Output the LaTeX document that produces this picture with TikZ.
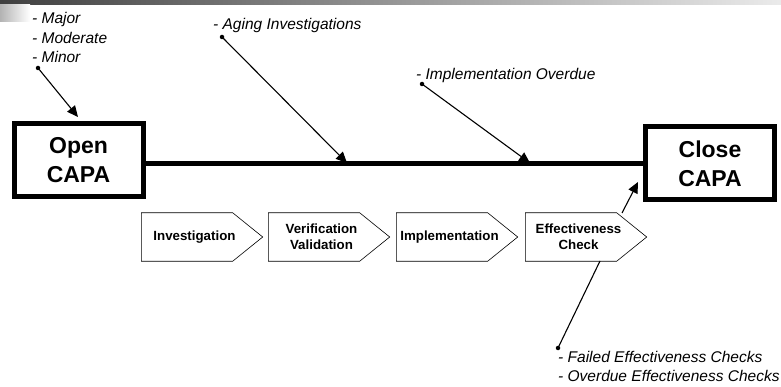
\documentclass[tikz,border=0pt]{standalone}
\usepackage{fontspec}
\setmainfont{Liberation Sans}
\usetikzlibrary{arrows.meta}
\begin{document}
\begin{tikzpicture}[x=1pt,y=-1pt,
  capabox/.style={draw=black, line width=5pt, minimum width=129pt, minimum height=73pt, align=center, font=\fontsize{23}{29}\selectfont\bfseries, inner sep=0pt},
  stagebody/.style={minimum width=91pt, minimum height=48pt, align=center, font=\fontsize{13.3}{16}\selectfont\bfseries, inner sep=0pt},
  chev/.style={draw=black, line width=0.6pt, fill=white},
  lbl/.style={font=\fontsize{15.5}{19}\selectfont\itshape, inner sep=0pt, anchor=base west},
  dotc/.style={circle, fill=black, inner sep=0pt, minimum size=4.5pt},
  pin/.style={line width=1.1pt, -{Triangle[length=11pt,width=10pt]}},
  pinplain/.style={line width=1.1pt}
]
\useasboundingbox (0,0) rectangle (781,387);
% header bar
\shade[left color=black!75, right color=black!8] (0,0) rectangle (781,4.5);
\shade[left color=black!30, right color=white] (0,4.5) rectangle (30,22);

% main boxes
\node[capabox] (open) at (78.5,160.5) {Open\\CAPA};
\node[capabox] (close) at (710,163.5) {Close\\CAPA};
\draw[line width=5pt] (open.east |- close.west) -- (close.west);

% stages
\node[stagebody] (inv) at (187,237) {};
\node[stagebody] (ver) at (314,237) {};
\node[stagebody] (imp) at (442,237) {};
\node[stagebody] (eff) at (571,237) {};
\foreach \n in {inv,ver,imp,eff}{
  \draw[chev] (\n.north west) -- (\n.north east) -- ([xshift=30pt]\n.east) -- (\n.south east) -- (\n.south west) -- cycle;
}
\node[stagebody, xshift=7.5pt] at (inv) {Investigation};
\node[stagebody, xshift=7.5pt] at (ver) {Verification\\Validation};
\node[stagebody, xshift=7.5pt] at (imp) {Implementation};
\node[stagebody, xshift=7.5pt] at (eff) {Effectiveness\\Check};

% labels
\node[lbl] (maj) at (32,24) {- Major};
\node[lbl] (mod) at (32,43.5) {- Moderate};
\node[lbl] (min) at (32,63) {- Minor};
\node[lbl] (aging) at (213,30) {- Aging Investigations};
\node[lbl] (impov) at (416,80) {- Implementation Overdue};
\node[lbl] (fail) at (558,362) {- Failed Effectiveness Checks};
\node[lbl] (ovd) at (558,381) {- Overdue Effectiveness Checks};

% dots
\node[dotc] (d1) at (38,68) {};
\node[dotc] (d2) at (222,37) {};
\node[dotc] (d3) at (422,84) {};
\node[dotc] (d4) at (558,348) {};

% target coordinates
\coordinate (t1) at (78,117);
\coordinate (t2) at (347,163);
\coordinate (t3) at (530,163);
\coordinate (t5) at (638,182);
\coordinate (e1) at (622,213);
\coordinate (e2) at (600,261);

\draw[pin] (d1.center) -- (t1);
\draw[pin] (d2.center) -- (t2);
\draw[pin] (d3.center) -- (t3);
\draw[pin] (e1) -- (t5);
\draw[pinplain] (d4.center) -- (e2);
\end{tikzpicture}
\end{document}
